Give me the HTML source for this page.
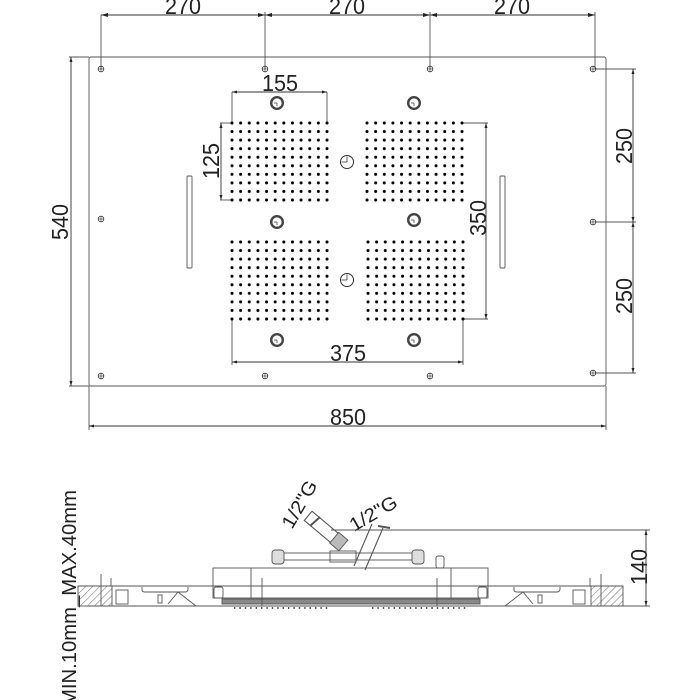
<!DOCTYPE html>
<html><head><meta charset="utf-8"><style>
html,body{margin:0;padding:0;background:#fff;}
svg{display:block}
text{font-family:"Liberation Sans",sans-serif;fill:#222}
</style></head><body>
<svg width="700" height="700" viewBox="0 0 700 700" xmlns="http://www.w3.org/2000/svg">
<defs>
<pattern id="dots" patternUnits="userSpaceOnUse" x="-4.318" y="-4.278" width="8.636" height="8.556">
<circle cx="4.318" cy="4.278" r="1.5" fill="#000"/>
</pattern>
<pattern id="hatch" patternUnits="userSpaceOnUse" width="5" height="5" patternTransform="rotate(45)">
<line x1="0" y1="0" x2="0" y2="5" stroke="#444" stroke-width="0.8"/>
</pattern>
<marker id="ar" viewBox="0 0 10 10" refX="10" refY="5" markerWidth="7" markerHeight="5" orient="auto-start-reverse" markerUnits="userSpaceOnUse"><path d="M0,2 L10,5 L0,8z" fill="#222"/></marker>
<g id="screw"><circle r="2.8" fill="none" stroke="#333" stroke-width="0.8"/><line x1="-2.5" x2="2.5" stroke="#333" stroke-width="0.6"/><line y1="-2.5" y2="2.5" stroke="#333" stroke-width="0.6"/></g>
<g id="noz"><circle r="5.8" fill="none" stroke="#444" stroke-width="2.4"/><line x1="-3" x2="0" stroke="#333" stroke-width="0.7"/><line y1="0" y2="3" stroke="#333" stroke-width="0.7"/></g>
<g id="led"><circle r="6.5" fill="none" stroke="#333" stroke-width="1"/><line x1="-5.5" x2="0" stroke="#333" stroke-width="0.8"/><line y1="-5.5" y2="0" stroke="#333" stroke-width="0.8"/></g>
</defs>
<g stroke="#555" fill="none" stroke-width="0.9">
<rect x="89" y="57" width="517" height="329" rx="2"/>
<line x1="101" y1="15" x2="595" y2="15" stroke="#333"/>
<line x1="101" y1="15" x2="101" y2="69"/><line x1="265" y1="12" x2="265" y2="69"/><line x1="430" y1="12" x2="430" y2="69"/><line x1="595" y1="12" x2="595" y2="69"/>
<line x1="69" y1="57" x2="89" y2="57"/><line x1="69" y1="386" x2="89" y2="386"/>
<line x1="71" y1="57" x2="71" y2="386" stroke="#333" marker-start="url(#ar)" marker-end="url(#ar)"/>
<line x1="89" y1="386" x2="89" y2="430"/><line x1="606" y1="386" x2="606" y2="430"/>
<line x1="89" y1="426" x2="606" y2="426" stroke="#333" marker-start="url(#ar)" marker-end="url(#ar)"/>
<line x1="595" y1="69" x2="636" y2="69"/><line x1="595" y1="222" x2="636" y2="222"/><line x1="595" y1="373" x2="636" y2="373"/>
<line x1="633" y1="69" x2="633" y2="222" stroke="#333" marker-start="url(#ar)" marker-end="url(#ar)"/>
<line x1="633" y1="222" x2="633" y2="373" stroke="#333" marker-start="url(#ar)" marker-end="url(#ar)"/>
<line x1="232" y1="92" x2="232" y2="123"/><line x1="327" y1="92" x2="327" y2="123"/>
<line x1="232" y1="92" x2="327" y2="92" stroke="#333" marker-start="url(#ar)" marker-end="url(#ar)"/>
<line x1="220" y1="123" x2="232" y2="123"/><line x1="220" y1="200" x2="232" y2="200"/>
<line x1="221" y1="123" x2="221" y2="200" stroke="#333" marker-start="url(#ar)" marker-end="url(#ar)"/>
<line x1="463" y1="123" x2="488" y2="123"/><line x1="463" y1="319" x2="488" y2="319"/>
<line x1="486" y1="123" x2="486" y2="319" stroke="#333" marker-start="url(#ar)" marker-end="url(#ar)"/>
<line x1="232" y1="319" x2="232" y2="365"/><line x1="463" y1="319" x2="463" y2="365"/>
<line x1="232" y1="362" x2="463" y2="362" stroke="#333" marker-start="url(#ar)" marker-end="url(#ar)"/>
<rect x="187" y="176" width="5" height="92" rx="1"/><rect x="500" y="176" width="5" height="92" rx="1"/>
</g>
<path d="M101 15 l7 -2 v4z M265 15 l-7 -2 v4z M265 15 l7 -2 v4z M430 15 l-7 -2 v4z M430 15 l7 -2 v4z M595 15 l-7 -2 v4z" fill="#222"/>
<use href="#screw" x="101" y="69"/><use href="#screw" x="265" y="69"/><use href="#screw" x="430" y="69"/><use href="#screw" x="593" y="69"/>
<use href="#screw" x="101" y="219"/><use href="#screw" x="593" y="222"/>
<use href="#screw" x="101" y="376"/><use href="#screw" x="265" y="376"/><use href="#screw" x="430" y="376"/><use href="#screw" x="593" y="373"/>
<use href="#noz" x="277" y="103"/><use href="#noz" x="414" y="103"/>
<use href="#noz" x="277" y="222"/><use href="#noz" x="414" y="220"/>
<use href="#noz" x="277" y="340"/><use href="#noz" x="414" y="340"/>
<use href="#led" x="347" y="162"/><use href="#led" x="347" y="280"/>
<g transform="translate(232,123)"><rect x="-4" y="-4" width="103" height="86" fill="url(#dots)"/></g>
<g transform="translate(367,123)"><rect x="-4" y="-4" width="103" height="86" fill="url(#dots)"/></g>
<g transform="translate(232,242)"><rect x="-4" y="-4" width="103" height="86" fill="url(#dots)"/></g>
<g transform="translate(368,242)"><rect x="-4" y="-4" width="103" height="86" fill="url(#dots)"/></g>
<g font-size="23">
<text x="183" y="14" text-anchor="middle" textLength="36" lengthAdjust="spacingAndGlyphs">270</text>
<text x="347" y="14" text-anchor="middle" textLength="36" lengthAdjust="spacingAndGlyphs">270</text>
<text x="512" y="14" text-anchor="middle" textLength="36" lengthAdjust="spacingAndGlyphs">270</text>
<text x="280" y="91" text-anchor="middle" textLength="36" lengthAdjust="spacingAndGlyphs">155</text>
<text x="348" y="361" text-anchor="middle" textLength="36" lengthAdjust="spacingAndGlyphs">375</text>
<text x="348" y="425" text-anchor="middle" textLength="36" lengthAdjust="spacingAndGlyphs">850</text>
<text transform="translate(68,222) rotate(-90)" text-anchor="middle" textLength="36" lengthAdjust="spacingAndGlyphs">540</text>
<text transform="translate(219,161) rotate(-90)" text-anchor="middle" textLength="36" lengthAdjust="spacingAndGlyphs">125</text>
<text transform="translate(486,218) rotate(-90)" text-anchor="middle" textLength="36" lengthAdjust="spacingAndGlyphs">350</text>
<text transform="translate(632,146) rotate(-90)" text-anchor="middle" textLength="36" lengthAdjust="spacingAndGlyphs">250</text>
<text transform="translate(632,296) rotate(-90)" text-anchor="middle" textLength="36" lengthAdjust="spacingAndGlyphs">250</text>
<text transform="translate(647,567) rotate(-90)" text-anchor="middle" textLength="36" lengthAdjust="spacingAndGlyphs">140</text>
<text transform="translate(76,706) rotate(-90)" font-size="20" textLength="216" lengthAdjust="spacingAndGlyphs">MIN.10mm_MAX.40mm</text>
<text transform="translate(292,530) rotate(-60)" font-size="19" textLength="52" lengthAdjust="spacingAndGlyphs">1/2"G</text>
<text transform="translate(354,532) rotate(-30)" font-size="19" textLength="52" lengthAdjust="spacingAndGlyphs">1/2"G</text>
</g>
<g stroke="#555" fill="none" stroke-width="0.9">
<rect x="78" y="586" width="34" height="20" fill="url(#hatch)"/>
<rect x="591" y="586" width="32" height="20" fill="url(#hatch)"/>
<line x1="78" y1="586" x2="623" y2="586"/>
<line x1="88" y1="606" x2="613" y2="606"/>
<line x1="331" y1="530" x2="650" y2="530"/><line x1="600" y1="606" x2="650" y2="606"/>
<line x1="646" y1="530" x2="646" y2="606" stroke="#333" marker-start="url(#ar)" marker-end="url(#ar)"/>
<line x1="101" y1="574" x2="101" y2="606"/><line x1="601" y1="574" x2="601" y2="606"/>
<line x1="111" y1="578" x2="111" y2="586"/><line x1="590" y1="578" x2="590" y2="586"/>
<rect x="116" y="590" width="12" height="14"/><rect x="573" y="590" width="12" height="14"/>
<path d="M142 587 v3 q0 2 3 2 h40 q3 0 3 -3 v-2"/><path d="M514 587 v3 q0 2 3 2 h40 q3 0 3 -3 v-2"/>
<path d="M168 604 L178 592 L196 606"/><path d="M505 606 L523 592 L533 604"/>
<rect x="158" y="595" width="4" height="8"/><rect x="538" y="595" width="4" height="8"/>
<rect x="213" y="568" width="275" height="30"/>
<line x1="251" y1="568" x2="251" y2="598"/><line x1="451" y1="568" x2="451" y2="598"/>
<rect x="214" y="587" width="9" height="11" rx="2"/><rect x="478" y="587" width="9" height="11" rx="2"/>
<rect x="222" y="599" width="258" height="5" fill="#888"/>
<line x1="262" y1="578" x2="262" y2="606"/><line x1="437" y1="578" x2="437" y2="606"/>
<rect x="280" y="553" width="140" height="7"/>
<rect x="272" y="550" width="12" height="14" rx="3" fill="#ddd"/><rect x="412" y="550" width="12" height="14" rx="3" fill="#ddd"/>
<rect x="330" y="551" width="26" height="11"/>
<rect x="436" y="556" width="8" height="12" rx="2"/>
<g transform="translate(325,530) rotate(40)"><rect x="-22" y="-6" width="44" height="12" stroke-width="1.1"/><rect x="12" y="-7" width="12" height="14" fill="#bbb"/></g>
<path d="M354 566 L372 524 M365 570 L383 528" stroke-width="1.1"/>
<line x1="320" y1="517" x2="310" y2="526" stroke-width="2"/>
<line x1="378" y1="526" x2="390" y2="528" stroke-width="2"/>
</g>
<g stroke="#222" stroke-width="1.4" stroke-dasharray="1.4 4">
<line x1="234" y1="608" x2="330" y2="608"/><line x1="372" y1="608" x2="468" y2="608"/>
</g>
</svg>
</body></html>
